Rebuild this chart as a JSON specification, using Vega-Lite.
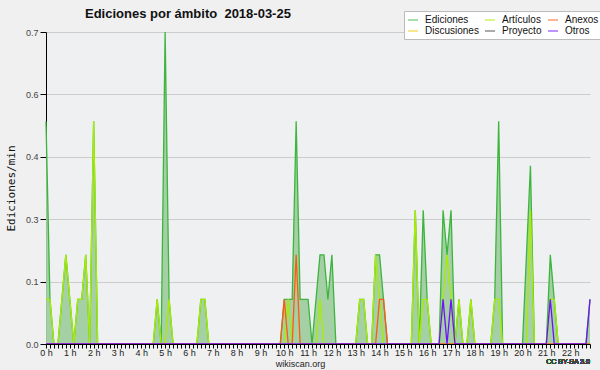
{
  "$schema": "https://vega.github.io/schema/vega-lite/v6.json",
  "width": 544,
  "height": 312,
  "autosize": {"type": "none"},
  "padding": {"left": 46, "top": 32, "right": 10, "bottom": 26},
  "background": "#f0f0f0",
  "config": {
    "view": {"fill": "#eef0f2", "stroke": null},
    "font": "Liberation Sans"
  },
  "title": {
    "text": "Ediciones por ámbito\u00a0 2018-03-25",
    "anchor": "start",
    "frame": "group",
    "dx": 39,
    "dy": 20,
    "offset": 10,
    "fontSize": 13,
    "fontWeight": "bold",
    "font": "Liberation Sans",
    "color": "#111111"
  },
  "data": {
    "values": [
      {"m": 0, "ediciones": 0.5, "articulos": 0.1, "anexos": 0, "otros": 0},
      {"m": 10, "ediciones": 0.1, "articulos": 0.1, "anexos": 0, "otros": 0},
      {"m": 20, "ediciones": 0, "articulos": 0, "anexos": 0, "otros": 0},
      {"m": 30, "ediciones": 0, "articulos": 0, "anexos": 0, "otros": 0},
      {"m": 40, "ediciones": 0.1, "articulos": 0.1, "anexos": 0, "otros": 0},
      {"m": 50, "ediciones": 0.2, "articulos": 0.2, "anexos": 0, "otros": 0},
      {"m": 60, "ediciones": 0.1, "articulos": 0.1, "anexos": 0, "otros": 0},
      {"m": 70, "ediciones": 0, "articulos": 0, "anexos": 0, "otros": 0},
      {"m": 80, "ediciones": 0.1, "articulos": 0.1, "anexos": 0, "otros": 0},
      {"m": 90, "ediciones": 0.1, "articulos": 0.1, "anexos": 0, "otros": 0},
      {"m": 100, "ediciones": 0.2, "articulos": 0.2, "anexos": 0, "otros": 0},
      {"m": 110, "ediciones": 0, "articulos": 0, "anexos": 0, "otros": 0},
      {"m": 120, "ediciones": 0.5, "articulos": 0.5, "anexos": 0, "otros": 0},
      {"m": 130, "ediciones": 0, "articulos": 0, "anexos": 0, "otros": 0},
      {"m": 270, "ediciones": 0, "articulos": 0, "anexos": 0, "otros": 0},
      {"m": 280, "ediciones": 0.1, "articulos": 0.1, "anexos": 0, "otros": 0},
      {"m": 290, "ediciones": 0, "articulos": 0, "anexos": 0, "otros": 0},
      {"m": 300, "ediciones": 0.7, "articulos": 0, "anexos": 0, "otros": 0},
      {"m": 310, "ediciones": 0.1, "articulos": 0.1, "anexos": 0, "otros": 0},
      {"m": 320, "ediciones": 0, "articulos": 0, "anexos": 0, "otros": 0},
      {"m": 380, "ediciones": 0, "articulos": 0, "anexos": 0, "otros": 0},
      {"m": 390, "ediciones": 0.1, "articulos": 0.1, "anexos": 0, "otros": 0},
      {"m": 400, "ediciones": 0.1, "articulos": 0.1, "anexos": 0, "otros": 0},
      {"m": 410, "ediciones": 0, "articulos": 0, "anexos": 0, "otros": 0},
      {"m": 590, "ediciones": 0, "articulos": 0, "anexos": 0, "otros": 0},
      {"m": 600, "ediciones": 0.1, "articulos": 0, "anexos": 0.1, "otros": 0},
      {"m": 610, "ediciones": 0.1, "articulos": 0.1, "anexos": 0, "otros": 0},
      {"m": 620, "ediciones": 0.1, "articulos": 0, "anexos": 0, "otros": 0},
      {"m": 630, "ediciones": 0.5, "articulos": 0, "anexos": 0.2, "otros": 0},
      {"m": 640, "ediciones": 0.1, "articulos": 0, "anexos": 0, "otros": 0},
      {"m": 650, "ediciones": 0.1, "articulos": 0, "anexos": 0, "otros": 0},
      {"m": 660, "ediciones": 0.1, "articulos": 0, "anexos": 0, "otros": 0},
      {"m": 670, "ediciones": 0, "articulos": 0, "anexos": 0, "otros": 0},
      {"m": 680, "ediciones": 0.1, "articulos": 0, "anexos": 0, "otros": 0},
      {"m": 690, "ediciones": 0.2, "articulos": 0.1, "anexos": 0, "otros": 0},
      {"m": 700, "ediciones": 0.2, "articulos": 0, "anexos": 0, "otros": 0},
      {"m": 710, "ediciones": 0.1, "articulos": 0, "anexos": 0, "otros": 0},
      {"m": 720, "ediciones": 0.2, "articulos": 0, "anexos": 0, "otros": 0},
      {"m": 730, "ediciones": 0, "articulos": 0, "anexos": 0, "otros": 0},
      {"m": 780, "ediciones": 0, "articulos": 0, "anexos": 0, "otros": 0},
      {"m": 790, "ediciones": 0.1, "articulos": 0.1, "anexos": 0, "otros": 0},
      {"m": 800, "ediciones": 0.1, "articulos": 0.1, "anexos": 0, "otros": 0},
      {"m": 810, "ediciones": 0, "articulos": 0, "anexos": 0, "otros": 0},
      {"m": 820, "ediciones": 0, "articulos": 0, "anexos": 0, "otros": 0},
      {"m": 830, "ediciones": 0.2, "articulos": 0.2, "anexos": 0, "otros": 0},
      {"m": 840, "ediciones": 0.2, "articulos": 0.1, "anexos": 0.1, "otros": 0},
      {"m": 850, "ediciones": 0.1, "articulos": 0, "anexos": 0.1, "otros": 0},
      {"m": 860, "ediciones": 0, "articulos": 0, "anexos": 0, "otros": 0},
      {"m": 920, "ediciones": 0, "articulos": 0, "anexos": 0, "otros": 0},
      {"m": 930, "ediciones": 0.3, "articulos": 0.3, "anexos": 0, "otros": 0},
      {"m": 940, "ediciones": 0, "articulos": 0, "anexos": 0, "otros": 0},
      {"m": 950, "ediciones": 0.3, "articulos": 0.1, "anexos": 0, "otros": 0},
      {"m": 960, "ediciones": 0.1, "articulos": 0.1, "anexos": 0, "otros": 0},
      {"m": 970, "ediciones": 0, "articulos": 0, "anexos": 0, "otros": 0},
      {"m": 990, "ediciones": 0, "articulos": 0, "anexos": 0, "otros": 0},
      {"m": 1000, "ediciones": 0.3, "articulos": 0.1, "anexos": 0, "otros": 0.1},
      {"m": 1010, "ediciones": 0.2, "articulos": 0.2, "anexos": 0, "otros": 0},
      {"m": 1020, "ediciones": 0.3, "articulos": 0.1, "anexos": 0, "otros": 0.1},
      {"m": 1030, "ediciones": 0, "articulos": 0, "anexos": 0, "otros": 0},
      {"m": 1040, "ediciones": 0.1, "articulos": 0.1, "anexos": 0, "otros": 0},
      {"m": 1050, "ediciones": 0, "articulos": 0, "anexos": 0, "otros": 0},
      {"m": 1060, "ediciones": 0, "articulos": 0, "anexos": 0, "otros": 0},
      {"m": 1070, "ediciones": 0.1, "articulos": 0.1, "anexos": 0, "otros": 0},
      {"m": 1080, "ediciones": 0, "articulos": 0, "anexos": 0, "otros": 0},
      {"m": 1120, "ediciones": 0, "articulos": 0, "anexos": 0, "otros": 0},
      {"m": 1130, "ediciones": 0.1, "articulos": 0.1, "anexos": 0, "otros": 0},
      {"m": 1140, "ediciones": 0.5, "articulos": 0.1, "anexos": 0, "otros": 0},
      {"m": 1150, "ediciones": 0, "articulos": 0, "anexos": 0, "otros": 0},
      {"m": 1200, "ediciones": 0, "articulos": 0, "anexos": 0, "otros": 0},
      {"m": 1210, "ediciones": 0.2, "articulos": 0, "anexos": 0, "otros": 0},
      {"m": 1220, "ediciones": 0.4, "articulos": 0.3, "anexos": 0, "otros": 0},
      {"m": 1230, "ediciones": 0, "articulos": 0, "anexos": 0, "otros": 0},
      {"m": 1260, "ediciones": 0, "articulos": 0, "anexos": 0, "otros": 0},
      {"m": 1270, "ediciones": 0.2, "articulos": 0.1, "anexos": 0, "otros": 0.1},
      {"m": 1280, "ediciones": 0.1, "articulos": 0.1, "anexos": 0, "otros": 0},
      {"m": 1290, "ediciones": 0, "articulos": 0, "anexos": 0, "otros": 0},
      {"m": 1360, "ediciones": 0, "articulos": 0, "anexos": 0, "otros": 0},
      {"m": 1370, "ediciones": 0.1, "articulos": 0, "anexos": 0, "otros": 0.1}
    ]
  },
  "encoding": {
    "x": {
      "field": "m",
      "type": "quantitative",
      "scale": {"domain": [0, 1370], "nice": false, "zero": false},
      "axis": {
        "title": "wikiscan.org",
        "tickCount": 137,
        "labelExpr": "datum.value % 60 == 0 ? (datum.value / 60) + ' h' : ''",
        "labelOverlap": false,
        "labelFlush": false,
        "labelBound": false,
        "labelAngle": 0,
        "grid": false,
        "domainColor": "#000000",
        "domainWidth": 1,
        "tickColor": "#000000",
        "tickSize": 4,
        "labelFontSize": 9,
        "labelColor": "#222222",
        "labelPadding": 0,
        "titleFontSize": 9,
        "titleFontWeight": "normal",
        "titleColor": "#222222",
        "titlePadding": 2,
        "titleX": 254,
        "zindex": 1
      }
    }
  },
  "layer": [
    {
      "mark": {"type": "area", "color": "#a0cea0", "opacity": 0.95},
      "encoding": {
        "y": {
          "field": "ediciones",
          "type": "quantitative",
          "scale": {"domain": [0, 0.7], "nice": false},
          "axis": {
            "title": "Ediciones/min",
            "titleFont": "DejaVu Sans Mono",
            "titleFontSize": 11,
            "titleFontWeight": "normal",
            "titleColor": "#111111",
            "titlePadding": 9,
            "values": [0, 0.035, 0.07, 0.105, 0.14, 0.175, 0.21, 0.245, 0.28, 0.315, 0.35, 0.385, 0.42, 0.455, 0.49, 0.525, 0.56, 0.595, 0.63, 0.665, 0.7],
            "labelExpr": "abs(datum.value / 0.14 - round(datum.value / 0.14)) < 0.01 ? format(datum.value, '.1f') : ''",
            "labelOverlap": false,
            "labelFlush": false,
            "labelFontSize": 9,
            "labelColor": "#444444",
            "labelPadding": 2,
            "tickColor": "#000000",
            "tickSize": {"condition": {"test": "abs(datum.value / 0.14 - round(datum.value / 0.14)) < 0.01", "value": 6}, "value": 3},
            "domainColor": "#000000",
            "grid": true,
            "gridColor": "#cccccc",
            "gridOpacity": {"condition": {"test": "abs(datum.value / 0.14 - round(datum.value / 0.14)) < 0.01", "value": 1}, "value": 0}
          }
        }
      }
    },
    {
      "mark": {"type": "line", "color": "#3db53d", "strokeWidth": 1.3},
      "encoding": {"y": {"field": "ediciones", "type": "quantitative"}}
    },
    {
      "transform": [{"fold": ["articulos", "anexos", "otros"], "as": ["serie", "valor"]}],
      "mark": {"type": "line", "strokeWidth": 1.3},
      "encoding": {
        "y": {"field": "valor", "type": "quantitative"},
        "color": {
          "field": "serie",
          "type": "nominal",
          "scale": {
            "domain": ["ediciones", "articulos", "anexos", "discusiones", "proyecto", "otros"],
            "range": ["#3db53d", "#a8ec00", "#ff5a10", "#f0c800", "#444444", "#7010ff"]
          },
          "legend": {
            "orient": "none",
            "legendX": 358,
            "legendY": -21,
            "columns": 3,
            "direction": "horizontal",
            "title": null,
            "symbolType": "stroke",
            "symbolSize": 100,
            "symbolStrokeWidth": 1.5,
            "symbolOpacity": 0.6,
            "labelFontSize": 10,
            "labelFont": "Liberation Sans",
            "labelColor": "#111111",
            "labelOffset": 6,
            "fillColor": "#ffffff",
            "strokeColor": "#bbbbbb",
            "padding": 3,
            "rowPadding": 0,
            "columnPadding": 3,
            "labelExpr": "datum.label == 'ediciones' ? 'Ediciones' : datum.label == 'articulos' ? 'Artículos' : datum.label == 'anexos' ? 'Anexos' : datum.label == 'discusiones' ? 'Discusiones' : datum.label == 'proyecto' ? 'Proyecto' : 'Otros'"
          }
        }
      }
    },
    {
      "mark": {"type": "text", "text": "CC BY-SA 3.0", "align": "right", "baseline": "middle", "dy": 18, "fontSize": 7, "color": "#444444"},
      "encoding": {"x": {"datum": 1370}, "y": {"datum": 0}}
    }
  ]
}
